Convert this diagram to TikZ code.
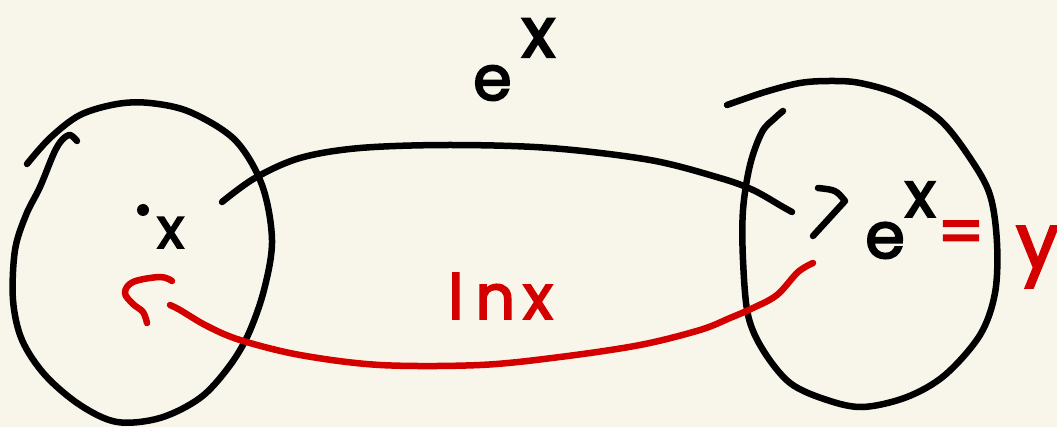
\documentclass[tikz,border=0pt]{standalone}
\usepackage{fontspec}
\setmainfont{Poppins}
\newfontfamily\handfont{Poppins}[FakeBold=3]
\definecolor{bg}{HTML}{F8F6EA}
\definecolor{pen}{HTML}{D40000}
\begin{document}
\begin{tikzpicture}[x=1pt,y=-1pt,
  ink/.style={line width=6.5pt, line cap=round, line join=round},
  redink/.style={ink, draw=pen},
  hand/.style={inner sep=0pt, font=\handfont\fontsize{62}{62}\selectfont}]
\useasboundingbox[fill=bg] (0,0) rectangle (1057,427);

% left circle (domain)
\draw[ink] plot[smooth, tension=0.55] coordinates {(27,164) (50,138) (80,115) (117,104) (150,103) (190,112) (235,140) (262,185) (272,240) (264,290) (248,335) (228,368) (200,398) (160,418) (117,422) (80,405) (45,375) (22,340) (13,300) (15,250) (26,215) (40,187) (54,153) (62,140) (70,135) (77,141)};

% right circle (codomain)
\draw[ink] plot[smooth, tension=0.55] coordinates {(727,105) (765,92) (800,83) (830,81) (860,83) (900,95) (940,120) (970,158) (990,195) (997,243) (995,293) (980,335) (945,375) (907,397) (863,407) (827,400) (790,383) (763,350) (748,315) (743,260) (743,210) (750,165) (762,132) (775,118) (783,111)};

% points and labels
\node[circle, fill, inner sep=0pt, minimum size=12pt] (pt) at (143,210) {};
\node[hand, anchor=base west, font=\handfont\fontsize{56}{56}\selectfont] (x) at (157,248) {x};
\node[hand, anchor=base west] (top) at (473,100) {e\hspace{10pt}\raisebox{43pt}{\fontsize{70}{70}\selectfont x}};
\node[hand, anchor=base west, font=\handfont\fontsize{64}{64}\selectfont] (ex) at (865,258) {e\raisebox{41pt}{\fontsize{64}{64}\selectfont x}};
\node[hand, text=pen, font=\handfont\fontsize{66}{66}\selectfont] (eq) at (961,238) {=};
\node[hand, text=pen, anchor=base west, font=\handfont\fontsize{76}{76}\selectfont] (yy) at (1016,268) {y};
\node[hand, text=pen, anchor=base west] (ln) at (448,319) {l\hspace{12pt}n\hspace{8pt}x};

% named ends of the connectors
\coordinate (a0) at (222,202);
\coordinate (a1) at (792,212);
\coordinate (b0) at (813,263);
\coordinate (b1) at (170,305);

% black arrow e^x
\draw[ink] plot[smooth, tension=0.55] coordinates {(a0) (255,178) (300,158) (360,148) (450,145) (550,148) (650,160) (720,178) (753,190) (783,207) (a1)};
\draw[ink] (818,188) .. controls (836,190) .. (845,201) -- (813,236);

% red arrow ln x
\draw[redink] plot[smooth, tension=0.55] coordinates {(b0) (798,272) (777,295) (753,308) (730,318) (700,330) (640,345) (560,357) (480,365) (380,365) (300,355) (240,340) (207,326) (180,310) (b1)};
\draw[redink] plot[smooth, tension=0.6] coordinates {(172,281) (160,277) (133,282) (125,293) (133,304) (143,312) (147,323)};
\end{tikzpicture}
\end{document}
